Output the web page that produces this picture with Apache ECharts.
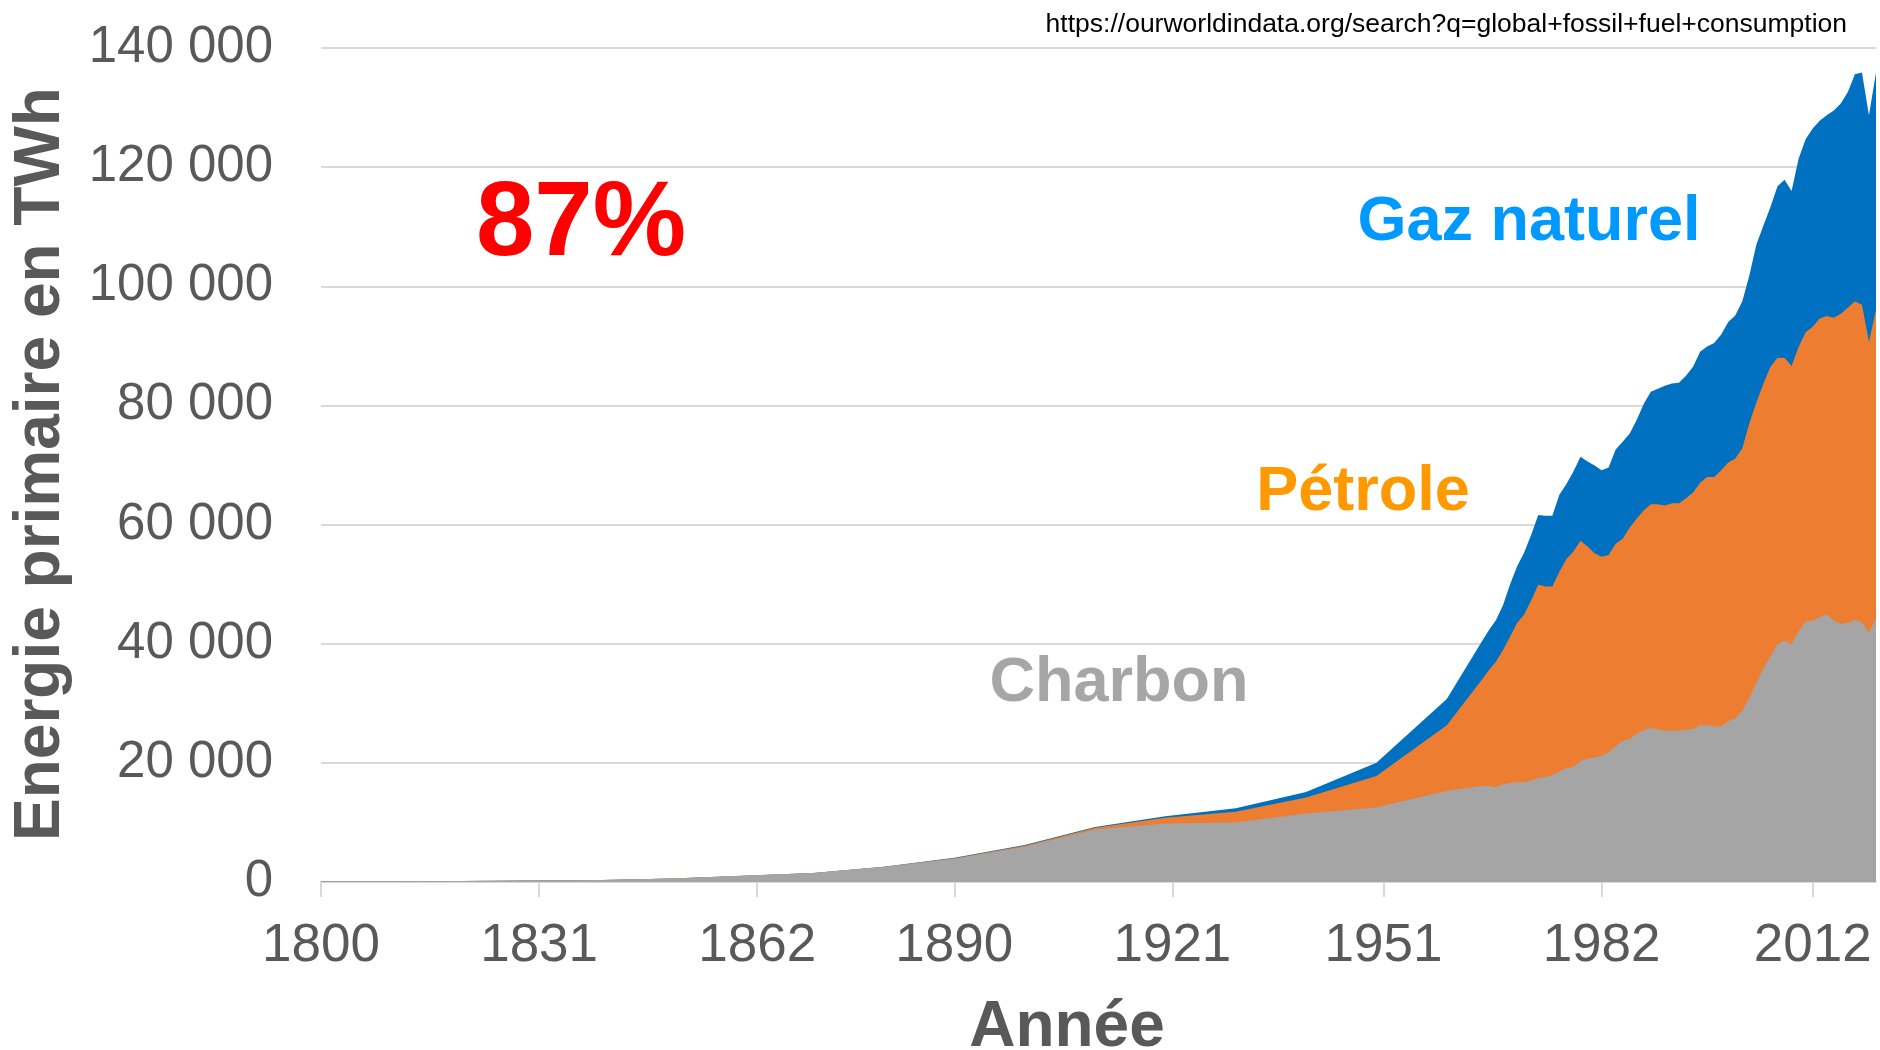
<!DOCTYPE html>
<html>
<head>
<meta charset="utf-8">
<title>Energie primaire fossile</title>
<script src="https://cdn.jsdelivr.net/npm/echarts@6/dist/echarts.min.js"></script>
<style>
  html, body { margin: 0; padding: 0; background: #fff; }
  #chart { width: 1880px; height: 1050px; }
</style>
</head>
<body>
<div id="chart"></div>
<script>
// années : pas de 10 ans jusqu'en 1960, puis annuel
const years = [1800, 1810, 1820, 1830, 1840, 1850, 1860, 1870, 1880, 1890, 1900, 1910, 1920, 1930, 1940, 1950, 1960,
  1965, 1966, 1967, 1968, 1969, 1970, 1971, 1972, 1973, 1974, 1975, 1976, 1977, 1978, 1979,
  1980, 1981, 1982, 1983, 1984, 1985, 1986, 1987, 1988, 1989, 1990, 1991, 1992, 1993, 1994,
  1995, 1996, 1997, 1998, 1999, 2000, 2001, 2002, 2003, 2004, 2005, 2006, 2007, 2008, 2009,
  2010, 2011, 2012, 2013, 2014, 2015, 2016, 2017, 2018, 2019, 2020, 2021];

// TWh par source
const coal = [97, 128, 153, 264, 356, 569, 1061, 1500, 2500, 3900, 5900, 8800, 9800, 10000, 11500, 12500, 15300,
  16100, 16100, 15900, 16400, 16600, 16800, 16800, 17000, 17500, 17600, 17900, 18600, 19100, 19300, 20300,
  20700, 20900, 21200, 21800, 22800, 23700, 24000, 24900, 25500, 25900, 25600, 25400, 25400, 25400, 25500,
  25700, 26300, 26300, 26100, 26100, 27000, 27500, 28700, 30900, 33400, 35900, 37900, 39900, 40500, 39900,
  42100, 43700, 43900, 44400, 44900, 43900, 43300, 43500, 44000, 43600, 41800, 44300];

const oil = [0, 0, 0, 0, 0, 0, 0, 10, 50, 100, 200, 300, 1000, 1800, 2700, 5300, 11000,
  17900, 19500, 21100, 22600, 24600, 26700, 28100, 30300, 32400, 32000, 31700, 33500, 35100, 36200, 37000,
  35600, 34300, 33400, 33100, 34000, 33900, 35500, 36100, 36900, 37500, 37800, 37800, 38200, 38200, 38900,
  39700, 40700, 41700, 41900, 43000, 43400, 43600, 44100, 46100, 47100, 47800, 48600, 48100, 47500, 46700,
  47700, 48600, 49300, 50200, 50100, 50800, 52100, 52900, 53500, 53300, 48900, 51700];

const gas = [0, 0, 0, 0, 0, 0, 0, 0, 0, 50, 100, 150, 250, 600, 900, 2200, 4400,
  6400, 6700, 7000, 7500, 8800, 9500, 10400, 11000, 11700, 11900, 11900, 12900, 12600, 13400, 14100,
  14300, 14700, 14500, 14700, 15800, 16300, 15800, 16600, 17900, 18900, 19400, 20100, 20100, 20200, 20600,
  21100, 22000, 21900, 22500, 22800, 23600, 24000, 24700, 24800, 26500, 26500, 26800, 28800, 29900, 29400,
  31600, 32400, 33300, 33200, 33700, 34800, 35300, 36200, 38100, 39000, 38000, 39900];

const xTicks = [1800, 1831, 1862, 1890, 1921, 1951, 1982, 2012];

const FONT = "'Liberation Sans', Arial, sans-serif";

// empilement : chaque couche = somme des sources en dessous
const coalTop = years.map((y, i) => [y, coal[i]]);
const oilTop = years.map((y, i) => [y, coal[i] + oil[i]]);
const gasTop = years.map((y, i) => [y, coal[i] + oil[i] + gas[i]]);

function area(name, data, color) {
  return {
    name: name,
    type: 'line',
    symbol: 'none',
    data: data,
    lineStyle: { width: 0 },
    areaStyle: { color: color, opacity: 1 },
    itemStyle: { color: color }
  };
}

const chart = echarts.init(document.getElementById('chart'));
chart.setOption({
  animation: false,
  backgroundColor: '#fff',
  grid: { left: 321, right: 4, top: 48, bottom: 168 },
  xAxis: {
    type: 'value',
    min: 1800,
    max: 2021,
    axisLine: { lineStyle: { color: '#D9D9D9', width: 2 } },
    axisTick: { customValues: xTicks, length: 15, lineStyle: { color: '#D9D9D9', width: 2 } },
    axisLabel: {
      customValues: xTicks,
      fontSize: 53, color: '#595959', fontFamily: FONT, margin: 38,
      formatter: v => String(v)
    },
    splitLine: { show: false }
  },
  yAxis: {
    type: 'value',
    min: 0,
    max: 140000,
    interval: 20000,
    axisLine: { show: false },
    axisTick: { show: false },
    axisLabel: {
      fontSize: 51, color: '#595959', fontFamily: FONT, margin: 48,
      formatter: v => String(v).replace(/\B(?=(\d{3})+(?!\d))/g, ' ')
    },
    splitLine: { lineStyle: { color: '#D9D9D9', width: 2 } }
  },
  series: [
    area('Gaz naturel', gasTop, '#0070C0'),
    area('Pétrole', oilTop, '#ED7D31'),
    area('Charbon', coalTop, '#A5A5A5')
  ],
  graphic: [
    { type: 'text', x: 41, y: 464, rotation: Math.PI / 2,
      style: { text: 'Energie primaire en TWh', fontSize: 64, fontWeight: 'bold', fontFamily: FONT,
               fill: '#595959', align: 'center', verticalAlign: 'middle' } },
    { type: 'text', x: 1067, y: 1028,
      style: { text: 'Année', fontSize: 64, fontWeight: 'bold', fontFamily: FONT,
               fill: '#595959', align: 'center', verticalAlign: 'middle' } },
    { type: 'text', x: 1847, y: 25,
      style: { text: 'https://ourworldindata.org/search?q=global+fossil+fuel+consumption', fontSize: 26.5,
               fontFamily: FONT, fill: '#000', align: 'right', verticalAlign: 'middle' } },
    { type: 'text', x: 581, y: 226,
      style: { text: '87%', fontSize: 105, fontWeight: 'bold', fontFamily: FONT,
               fill: '#FF0000', align: 'center', verticalAlign: 'middle' } },
    { type: 'text', x: 1529, y: 223,
      style: { text: 'Gaz naturel', fontSize: 63, fontWeight: 'bold', fontFamily: FONT,
               fill: '#0099FF', align: 'center', verticalAlign: 'middle' } },
    { type: 'text', x: 1363, y: 493,
      style: { text: 'Pétrole', fontSize: 63, fontWeight: 'bold', fontFamily: FONT,
               fill: '#FF9900', align: 'center', verticalAlign: 'middle' } },
    { type: 'text', x: 1119, y: 684,
      style: { text: 'Charbon', fontSize: 63, fontWeight: 'bold', fontFamily: FONT,
               fill: '#A6A6A6', align: 'center', verticalAlign: 'middle' } }
  ]
});
</script>
</body>
</html>
